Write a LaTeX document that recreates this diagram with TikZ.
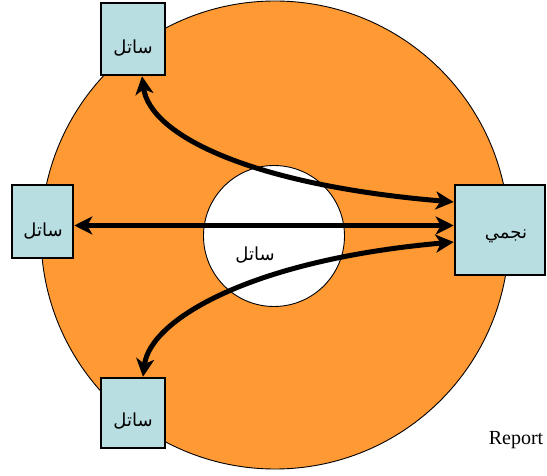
\documentclass[tikz,border=0pt]{standalone}
\usepackage{fontspec}
\setmainfont{Liberation Serif}
\newfontfamily\arabicfont[Script=Arabic]{DejaVu Sans}
\TeXXeTstate=1
\usetikzlibrary{arrows.meta,calc}
\definecolor{discorange}{RGB}{255,153,51}
\definecolor{boxblue}{RGB}{185,222,226}
\tikzset{
  satbox/.style={draw=black, line width=2.5pt, fill=boxblue, inner sep=0pt, text depth=0pt},
  arlabel/.style={font=\arabicfont\fontsize{18}{21}\selectfont},
  link/.style={line width=5pt, black,
    {Stealth[length=18pt,width=18pt,inset=5pt]}-{Stealth[length=18pt,width=18pt,inset=5pt]}},
}
\begin{document}
\begin{tikzpicture}[x=1pt,y=-1pt]
\useasboundingbox (0,0) rectangle (547,476);
\fill[white] (0,0) rectangle (547,476);
% discs
\draw[fill=discorange, line width=0.9pt] (275,235) circle[radius=234];
\draw[fill=white, line width=0.9pt] (274,236) circle[radius=70.5];
% boxes
\node[satbox, minimum width=64pt, minimum height=72pt] (sTop) at (133,39) {};
\node[satbox, minimum width=61pt, minimum height=73pt] (sLeft) at (42.5,221.5) {};
\node[satbox, minimum width=64pt, minimum height=70pt] (sBot) at (133,413) {};
\node[satbox, minimum width=90pt, minimum height=90pt] (sRight) at (500,230) {};
% labels
\node[arlabel] (tTop) at (133,48) {\beginR ساتل\endR};
\node[arlabel] (tLeft) at (43,231) {\beginR ساتل\endR};
\node[arlabel] (tBot) at (133,421) {\beginR ساتل\endR};
\node[arlabel] (tRight) at (506,236) {\beginR نجمي\endR};
\node[arlabel] (tCenter) at (255,255) {\beginR ساتل\endR};
\node[font=\fontsize{20}{22}\selectfont] (report) at (516,440) {Report};
% connectors
\draw[link] ([xshift=9pt]sTop.south) .. controls (150,135) and (250,185) .. ([yshift=28pt]sRight.west);
\draw[link] ([yshift=-4pt]sLeft.east) -- ([yshift=-4pt]sLeft.east -| sRight.west);
\draw[link] ([xshift=10pt]sBot.north) .. controls (150,320) and (250,260) .. ([yshift=-12pt]sRight.west);
\end{tikzpicture}
\end{document}
